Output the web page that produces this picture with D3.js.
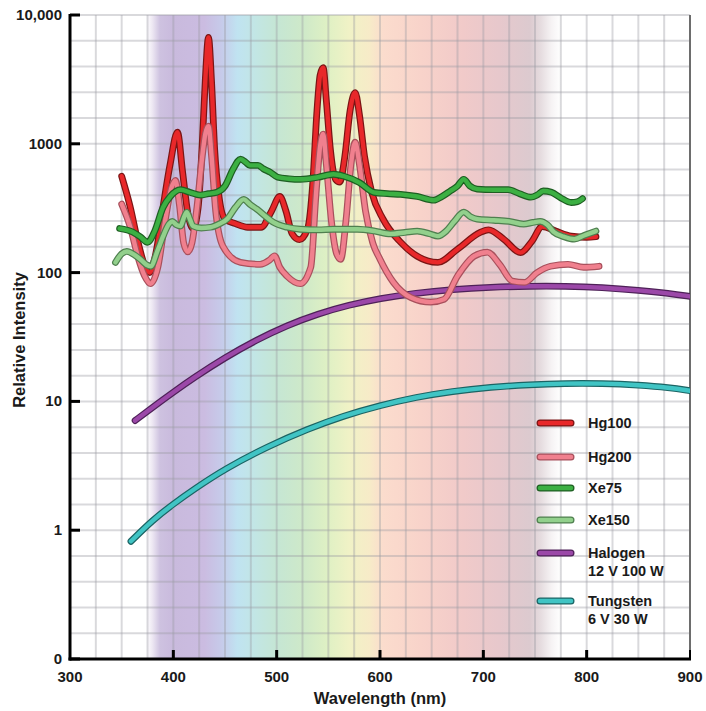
<!DOCTYPE html>
<html><head><meta charset="utf-8">
<script src="https://cdn.jsdelivr.net/npm/d3@7"></script>
<style>body{margin:0;background:#fff}svg{display:block}text{font-family:"Liberation Sans",Arial,Helvetica,sans-serif;font-weight:bold;fill:#1a1a1a}</style>
</head><body><svg id="c" width="706" height="711"></svg>
<script>
const xTicks = [300, 400, 500, 600, 700, 800, 900];
const yTicks = [0.1, 1, 10, 100, 1000, 10000];
const yTickLabels = ["0", "1", "10", "100", "1000", "10,000"];

const hg100Nm = [350,358,366,372,377,383,390,397,404,409,414,419,424,428,431,434,437,440,444,450,460,472,485,495,503,509,515,522,530,535,539,542,545,548,552,557,561,566,571,576,580,585,592,603,620,636,656,675,697,705,720,736,747,757,770,785,800,809];
const hg100Val = [560,330,170,115,100,140,320,700,1230,600,290,220,320,1000,3200,6700,3000,900,400,260,240,225,225,300,390,300,200,180,220,500,1800,3400,3900,2200,900,530,505,800,1800,2500,1700,800,420,260,172,134,120,152,205,215,181,143,175,228,210,192,188,190];

const hg200Nm = [350,358,366,372,378,385,392,398,402,406,410,414,418,423,428,431,434,437,441,448,465,484,493,498,503,510,523,533,538,542,545,548,553,558,562,567,572,576,580,586,593,600,613,630,649,662,675,691,704,716,728,740,752,765,782,797,812];
const hg200Val = [340,230,130,95,82,110,250,450,520,330,170,145,170,330,800,1200,1370,800,300,160,120,116,125,135,110,94,82,110,400,950,1190,700,250,140,127,250,700,1030,700,300,170,127,84,64,59,62,94,134,144,115,86,84,100,112,116,110,112];

const xe75Nm = [348,361,368,375,382,390,397,407,416,426,434,442,450,458,465,470,474,477,482,487,494,501,512,523,540,555,565,580,594,607,620,636,652,660,668,675,681,687,694,710,724,735,746,752,758,766,775,785,791,796];
const xe75Val = [220,206,190,172,210,320,390,440,420,400,410,420,470,640,760,720,680,680,680,640,600,550,535,530,550,580,560,500,420,410,405,390,365,390,430,470,530,470,445,440,440,410,385,400,430,420,380,350,355,375];

const xe150Nm = [344,350,355,362,368,374,378,385,390,396,399,403,407,410,413,416,419,427,436,445,452,460,468,474,481,490,497,510,523,540,555,578,595,610,624,636,648,656,664,672,681,688,694,710,725,739,748,755,762,768,778,788,798,809];
const xe150Val = [120,140,146,138,127,115,112,150,191,240,250,235,230,265,295,260,230,222,225,240,260,320,370,340,310,270,245,225,217,215,217,217,210,200,205,210,200,192,210,250,295,270,260,255,250,238,245,250,235,207,190,182,195,210];

const halogenNm = [363,380,400,420,450,480,510,540,570,600,635,670,707,745,779,815,851,880,900];
const halogenVal = [7.1,9.0,11.8,15.3,21.9,29.9,38.9,47.9,56.1,63.1,69.5,74.1,77.1,78.5,78.5,76.7,72.8,68.9,65.3];

const tungstenNm = [359,380,400,420,450,492,530,564,600,635,670,707,745,779,815,851,880,900];
const tungstenVal = [0.82,1.2,1.6,2.08,3.0,4.5,6.1,7.7,9.3,10.8,12.0,12.9,13.5,13.8,13.8,13.4,12.8,12.1];

const seriesNames = ["Hg100","Hg200","Xe75","Xe150","Halogen","Tungsten"];
const seriesSub = ["","","","","12 V 100 W","6 V 30 W"];
const fillColors = ["#e8282a","#f0808e","#3cb043","#92d08c","#9b48a8","#40c4c4"];
const edgeColors = ["#7a1515","#a8505c","#1e5e22","#4f7f4f","#4e2158","#1b6464"];

const svg = d3.select("#c");
const x = d3.scaleLinear().domain([300, 900]).range([70, 690]);
const y = d3.scaleLog().domain([0.1, 10000]).range([659, 15]);
const L = 70, R = 690, T = 15, B = 659;

// spectrum gradient
const defs = svg.append("defs");
const spec = [
  [374,"#ffffff"],[380,"#ece6f2"],[387,"#cec2e0"],[400,"#c9badd"],[430,"#cbbce1"],[447,"#c6cbea"],
  [462,"#c0e3f1"],[480,"#c2e6e4"],[500,"#c5e6d4"],[525,"#cee9c9"],[548,"#def0c4"],
  [570,"#f0f2c6"],[590,"#f7ebc8"],[603,"#fbdccd"],[640,"#f8d3ca"],[680,"#f1cac9"],
  [715,"#e7c8cc"],[745,"#dccacf"],[756,"#e6dde0"],[766,"#f6f3f4"],[775,"#ffffff"]
];
const grad = defs.append("linearGradient").attr("id","spec").attr("gradientUnits","userSpaceOnUse")
  .attr("x1", x(300)).attr("x2", x(900)).attr("y1",0).attr("y2",0);
grad.append("stop").attr("offset", 0).attr("stop-color", "#ffffff");
spec.forEach(s => grad.append("stop").attr("offset", (s[0]-300)/600).attr("stop-color", s[1]));
defs.append("clipPath").attr("id","clip").append("rect").attr("x",L).attr("y",T).attr("width",R-L).attr("height",B-T);

svg.append("rect").attr("x",L).attr("y",T).attr("width",R-L).attr("height",B-T).attr("fill","url(#spec)");

// grid
const grid = svg.append("g").attr("stroke","#9a9aa4").attr("stroke-opacity",0.38).attr("stroke-width",2);
d3.range(325, 901, 25).forEach(v => grid.append("line").attr("x1",x(v)).attr("x2",x(v)).attr("y1",T).attr("y2",B));
d3.range(-1, 4).forEach(k => d3.range(1, 6).forEach(j => {
  const yy = y(Math.pow(10, k + j/5));
  grid.append("line").attr("x1",L).attr("x2",R).attr("y1",yy).attr("y2",yy);
}));

// right border
svg.append("line").attr("x1",R).attr("x2",R).attr("y1",T).attr("y2",B).attr("stroke","#6d6d6d").attr("stroke-width",2);

// series
const data = [
  [hg100Nm,hg100Val],[hg200Nm,hg200Val],[xe75Nm,xe75Val],[xe150Nm,xe150Val],[halogenNm,halogenVal],[tungstenNm,tungstenVal]
];
const lineSharp = d3.line().x(d => x(d[0])).y(d => y(d[1])).curve(d3.curveMonotoneX);
const lineSmooth = d3.line().x(d => x(d[0])).y(d => y(d[1])).curve(d3.curveBasis);
const order = [5,4,0,1,2,3];
const sg = svg.append("g").attr("clip-path","url(#clip)");
order.forEach(i => {
  const pts = data[i][0].map((n, k) => [n, data[i][1][k]]);
  const ln = i >= 4 ? lineSmooth : lineSharp;
  sg.append("path").attr("d", ln(pts)).attr("fill","none").attr("stroke",edgeColors[i])
    .attr("stroke-width",6.8).attr("stroke-linecap","round").attr("stroke-linejoin","round");
  sg.append("path").attr("d", ln(pts)).attr("fill","none").attr("stroke",fillColors[i])
    .attr("stroke-width",4.4).attr("stroke-linecap","round").attr("stroke-linejoin","round");
});

// axes
const ax = svg.append("g");
ax.append("line").attr("x1",L).attr("x2",L).attr("y1",T-1).attr("y2",B+1.5).attr("stroke","#000").attr("stroke-width",3);
ax.append("line").attr("x1",L-1.5).attr("x2",R+1).attr("y1",B).attr("y2",B).attr("stroke","#000").attr("stroke-width",3);
yTicks.forEach((t, i) => {
  ax.append("line").attr("x1",L).attr("x2",L+10).attr("y1",y(t)).attr("y2",y(t)).attr("stroke","#000").attr("stroke-width",3);
  ax.append("text").attr("x",62).attr("y",y(t)+5).attr("text-anchor","end").attr("font-size",15).text(yTickLabels[i]);
});
xTicks.forEach(t => {
  if (t > 300 && t < 900) ax.append("line").attr("x1",x(t)).attr("x2",x(t)).attr("y1",B).attr("y2",B-9).attr("stroke","#000").attr("stroke-width",3);
  if (t === 900) ax.append("line").attr("x1",x(t)).attr("x2",x(t)).attr("y1",B).attr("y2",B-9).attr("stroke","#000").attr("stroke-width",2);
  ax.append("text").attr("x",x(t)).attr("y",682).attr("text-anchor","middle").attr("font-size",15).text(t);
});
svg.append("text").attr("x",380).attr("y",704).attr("text-anchor","middle").attr("font-size",16.5).text("Wavelength (nm)");
svg.append("text").attr("transform","translate(25,340) rotate(-90)").attr("text-anchor","middle").attr("font-size",16.5).text("Relative Intensity");

// legend
const legY = [423, 457, 488, 520, 553, 601];
const lg = svg.append("g");
seriesNames.forEach((n, i) => {
  lg.append("line").attr("x1",540).attr("x2",571).attr("y1",legY[i]).attr("y2",legY[i])
    .attr("stroke",edgeColors[i]).attr("stroke-width",7).attr("stroke-linecap","round");
  lg.append("line").attr("x1",540).attr("x2",571).attr("y1",legY[i]).attr("y2",legY[i])
    .attr("stroke",fillColors[i]).attr("stroke-width",4.5).attr("stroke-linecap","round");
  lg.append("text").attr("x",588).attr("y",legY[i]+5).attr("font-size",14.5).text(n);
  if (seriesSub[i]) lg.append("text").attr("x",588).attr("y",legY[i]+23).attr("font-size",14.5).text(seriesSub[i]);
});
</script></body></html>
